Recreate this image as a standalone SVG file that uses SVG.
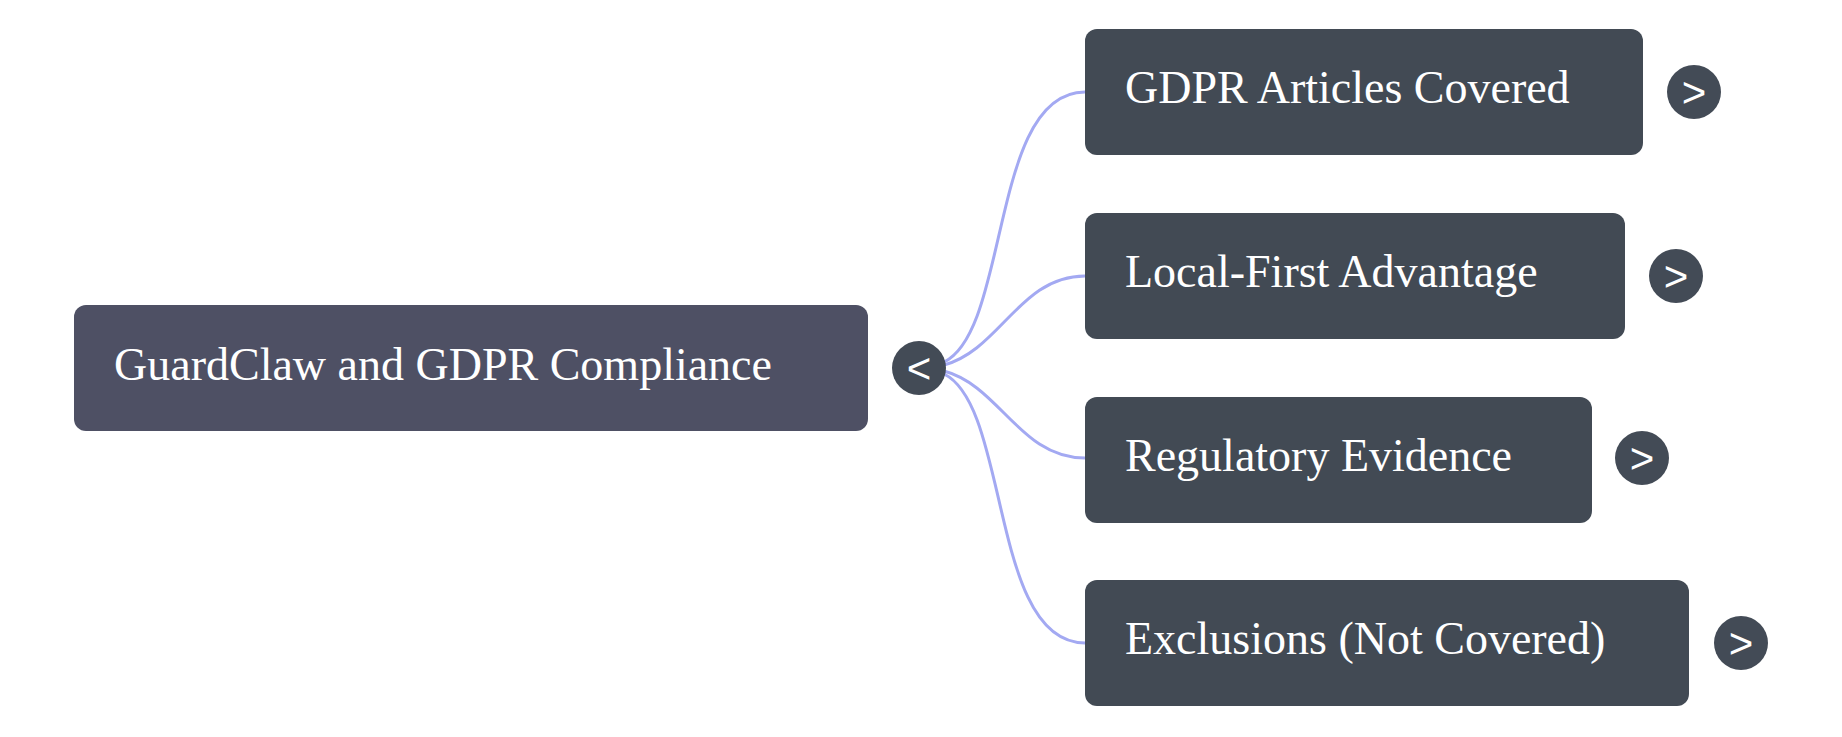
<svg xmlns="http://www.w3.org/2000/svg" width="1842" height="737" viewBox="0 0 1842 737">
<style>
.root{fill:#4e5064}.child{fill:#424a54}
.t{font-family:"Liberation Serif",serif;font-size:46px;fill:#fff}
.btn{fill:#434b56}
.arr{font-family:"Liberation Sans",sans-serif;font-size:42px;fill:#fff;text-anchor:middle}
.e{fill:none;stroke:#a3a9f2;stroke-width:3}
</style>
<rect width="1842" height="737" fill="#fff"/>
<g id="edges">
<path class="e" d="M944,362 C1010,330 990,92 1085,92"/>
<path class="e" d="M944,365 C1000,350 1020,276 1085,276"/>
<path class="e" d="M944,371 C1000,386 1020,458 1085,458"/>
<path class="e" d="M944,374 C1010,406 990,643 1085,643"/>
</g>
<g id="root"><rect class="root" x="74" y="305" width="794" height="126" rx="12"/><text class="t" x="114" y="380">GuardClaw and GDPR Compliance</text>
<circle class="btn" cx="919" cy="368" r="27"/><text class="arr" x="919" y="383">&lt;</text></g>
<g id="n1"><rect class="child" x="1085" y="29" width="558" height="126" rx="12"/><text class="t" x="1125" y="103">GDPR Articles Covered</text>
<circle class="btn" cx="1694" cy="92" r="27"/><text class="arr" x="1694" y="107">&gt;</text></g>
<g id="n2"><rect class="child" x="1085" y="213" width="540" height="126" rx="12"/><text class="t" x="1125" y="287">Local-First Advantage</text>
<circle class="btn" cx="1676" cy="276" r="27"/><text class="arr" x="1676" y="291">&gt;</text></g>
<g id="n3"><rect class="child" x="1085" y="397" width="507" height="126" rx="12"/><text class="t" x="1125" y="471">Regulatory Evidence</text>
<circle class="btn" cx="1642" cy="458" r="27"/><text class="arr" x="1642" y="473">&gt;</text></g>
<g id="n4"><rect class="child" x="1085" y="580" width="604" height="126" rx="12"/><text class="t" x="1125" y="654">Exclusions (Not Covered)</text>
<circle class="btn" cx="1741" cy="643" r="27"/><text class="arr" x="1741" y="658">&gt;</text></g>
</svg>
